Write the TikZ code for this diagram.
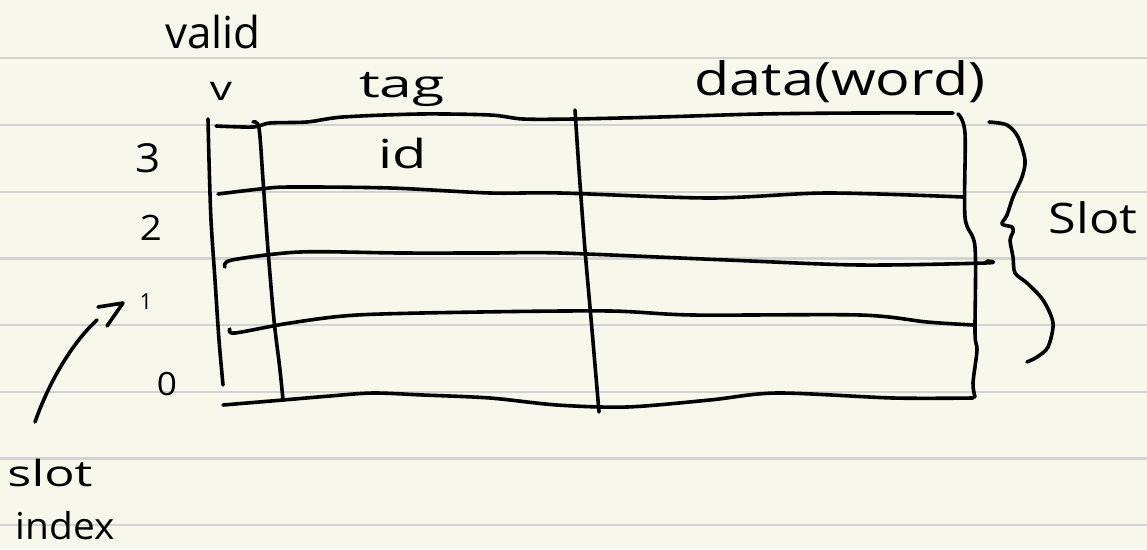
\documentclass[tikz,border=0pt]{standalone}
\usepackage{fontspec}
\usepackage{graphicx}
\setmainfont{Open Sans}
\definecolor{paper}{RGB}{248,247,236}
\definecolor{rule}{RGB}{211,211,211}
\newcommand\hw[3]{\fontsize{#1}{#1}\selectfont\scalebox{#2}[1]{#3}}
\tikzset{
  ink/.style={line width=3.6pt, line cap=round, line join=round, black},
  ruling/.style={line width=2.4pt, rule},
  lab/.style={inner sep=0pt, anchor=base, text=black},
}
\begin{document}
\begin{tikzpicture}[x=1pt,y=-1pt]
% paper and its ruled lines
\fill[paper] (0,0) rectangle (1147,549);
\useasboundingbox (0,0) rectangle (1147,549);
\foreach \yy in {58,125,192,258.5,325,392,458.5,525}
  \draw[ruling] (0,\yy) -- (1147,\yy);

% column headings
\node[lab] (valid) at (213,48) {\hw{44}{1.0}{valid}};
\node[lab] (vhead) at (221,100) {\hw{34}{1.3}{v}};
\node[lab] (taghead) at (402,97) {\hw{38}{1.55}{tag}};
\node[lab] (datahead) at (840,95) {\hw{46}{1.25}{data(word)}};
\node[lab] (id) at (403,168) {\hw{40}{1.4}{id}};

% slot indices
\node[lab] (i3) at (148,172) {\hw{40}{1.1}{3}};
\node[lab] (i2) at (151,240) {\hw{35}{1.1}{2}};
\node[lab] (i1) at (146,309) {\hw{22}{1.0}{1}};
\node[lab] (i0) at (167,395) {\hw{32}{1.1}{0}};

% side labels
\node[lab] (slotlab) at (1093,233) {\hw{42}{1.2}{Slot}};
\node[lab] (slotw) at (50,486) {\hw{36}{1.4}{slot}};
\node[lab] (indexw) at (65,539) {\hw{37}{1.05}{index}};

% table: vertical strokes
\draw[ink] plot[smooth] coordinates {(208,119) (209,160) (211,220) (215,280) (219,340) (223,385)};
\draw[ink] plot[smooth] coordinates {(253,122) (259,128) (263,180) (268,250) (274,320) (280,370) (283,400)};
\draw[ink] plot[smooth] coordinates {(575,110) (579,170) (585,250) (592,330) (599,412)};
\draw[ink] plot[smooth] coordinates {(958,114) (965,133) (965,217) (975,247) (975,333) (977,350) (973,383) (975,397)};

% table: horizontal strokes
\draw[ink] plot[smooth] coordinates {(216,126) (253,127) (270,123) (307,122) (343,117) (420,114) (490,115) (523,119) (573,119) (660,117) (760,114) (860,113) (953,113)};
\draw[ink] plot[smooth] coordinates {(218,194) (260,189) (290,187) (390,188) (490,193) (560,193) (710,198) (827,193) (963,197)};
\draw[ink] plot[smooth] coordinates {(225,267) (232,260) (300,252) (400,253) (490,253) (560,253) (727,260) (860,265) (985,263) (987,261)};
\draw[ink] plot[smooth] coordinates {(230,329) (235,333) (290,323) (357,315) (480,312) (610,311) (693,315) (860,315) (927,322) (973,325)};
\draw[ink] plot[smooth] coordinates {(223,405) (283,400) (330,396) (373,393) (423,395) (490,398) (557,405) (627,407) (710,400) (777,393) (893,398) (973,398)};

% brace grouping the slots
\draw[ink] plot[smooth] coordinates {(989,122) (1007,125) (1018,137) (1025,160) (1022,177) (1013,197) (1007,215) (1002,224) (1012,227) (1013,232) (1010,240) (1013,257) (1015,273) (1027,283) (1043,300) (1053,323) (1048,347) (1037,357) (1027,362)};

% arrow pointing from "slot index" to the indices
\coordinate (arrfrom) at (35,422);
\coordinate (arrend) at (97,320);
\coordinate (tip) at (123,303);
\draw[ink] (arrfrom) .. controls (48,385) and (70,345) .. (arrend);
\draw[ink] (98,307) -- (tip) -- (107,326);
\end{tikzpicture}
\end{document}
